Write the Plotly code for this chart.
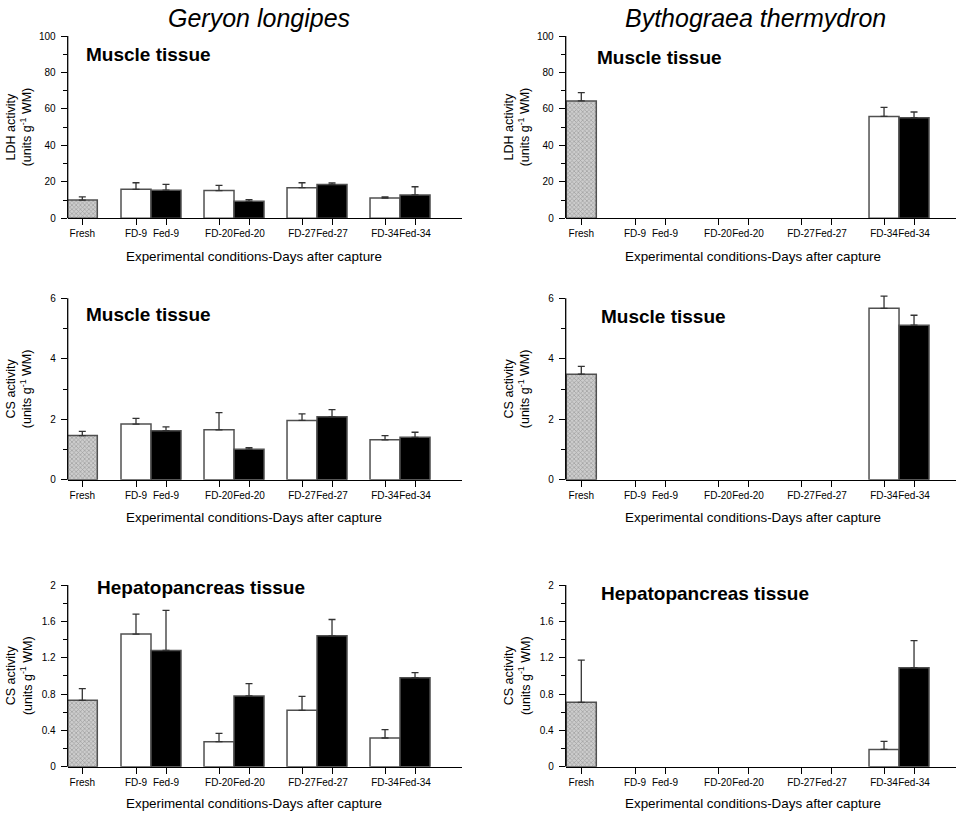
import plotly.graph_objects as go

W, H = 966, 816

# ---------------- data ----------------
categories = ["Fresh", "FD-9", "Fed-9", "FD-20", "Fed-20", "FD-27", "Fed-27", "FD-34", "Fed-34"]
days = [9, 20, 27, 34]

# Geryon longipes - LDH, muscle
gl_ldh_fresh = [10.0]
gl_ldh_fresh_err = [1.8]
gl_ldh_fd = [15.9, 15.2, 16.8, 11.1]
gl_ldh_fd_err = [3.6, 2.9, 2.7, 0.6]
gl_ldh_fed = [15.4, 9.3, 18.6, 12.8]
gl_ldh_fed_err = [3.2, 0.9, 0.8, 4.5]

# Geryon longipes - CS, muscle
gl_csm_fresh = [1.46]
gl_csm_fresh_err = [0.14]
gl_csm_fd = [1.84, 1.65, 1.96, 1.32]
gl_csm_fd_err = [0.19, 0.57, 0.22, 0.14]
gl_csm_fed = [1.62, 1.01, 2.08, 1.40]
gl_csm_fed_err = [0.13, 0.05, 0.24, 0.17]

# Geryon longipes - CS, hepatopancreas
gl_csh_fresh = [0.73]
gl_csh_fresh_err = [0.13]
gl_csh_fd = [1.46, 0.275, 0.62, 0.316]
gl_csh_fd_err = [0.22, 0.092, 0.154, 0.091]
gl_csh_fed = [1.28, 0.778, 1.44, 0.98]
gl_csh_fed_err = [0.44, 0.136, 0.18, 0.055]

# Bythograea thermydron - LDH, muscle
bt_ldh_fresh = [64.4]
bt_ldh_fresh_err = [4.5]
bt_ldh_fd = [None, None, None, 55.9]
bt_ldh_fd_err = [0, 0, 0, 5.0]
bt_ldh_fed = [None, None, None, 55.2]
bt_ldh_fed_err = [0, 0, 0, 3.1]

# Bythograea thermydron - CS, muscle
bt_csm_fresh = [3.49]
bt_csm_fresh_err = [0.26]
bt_csm_fd = [None, None, None, 5.67]
bt_csm_fd_err = [0, 0, 0, 0.40]
bt_csm_fed = [None, None, None, 5.11]
bt_csm_fed_err = [0, 0, 0, 0.33]

# Bythograea thermydron - CS, hepatopancreas
bt_csh_fresh = [0.708]
bt_csh_fresh_err = [0.466]
bt_csh_fd = [None, None, None, 0.19]
bt_csh_fd_err = [0, 0, 0, 0.089]
bt_csh_fed = [None, None, None, 1.09]
bt_csh_fed_err = [0, 0, 0, 0.297]

species = ["Geryon longipes", "Bythograea thermydron"]
panel_labels = ["Muscle tissue", "Muscle tissue", "Hepatopancreas tissue"]
y_titles = ["LDH activity<br>(units g<sup>-1</sup> WM)",
            "CS activity<br>(units g<sup>-1</sup> WM)",
            "CS activity<br>(units g<sup>-1</sup> WM)"]
x_title = "Experimental conditions-Days after capture"
y_max = [100, 6, 2]
y_dticks = [20, 2, 0.4]

# ---------------- layout geometry ----------------
FONT = "Liberation Sans, Arial, sans-serif"
PX_PER_UNIT = 30.0
FIRST_PAIR = 1.79
PAIR_STEP = 2.767
BAR_W = 1.0
HEADROOM = 0.05  # extra space above the top tick so error bars are not clipped

pos_fresh = [0.0]
pos_fd = [FIRST_PAIR + PAIR_STEP * i for i in range(len(days))]
pos_fed = [p + 1.0 for p in pos_fd]
tick_pos = pos_fresh + [v for pair in zip(pos_fd, pos_fed) for v in pair]

col_px = [(67.7, 461.7, 82.3), (565.7, 956.0, 581.3)]  # axis left, axis right, Fresh centre
row_px = [(36.0, 218.3), (298.3, 479.7), (585.0, 766.7)]  # top tick, zero (pixels)


def px_x(p):
    return p / W


def px_y(p):
    return 1 - p / H


panels = [
    [(gl_ldh_fresh, gl_ldh_fresh_err, gl_ldh_fd, gl_ldh_fd_err, gl_ldh_fed, gl_ldh_fed_err),
     (bt_ldh_fresh, bt_ldh_fresh_err, bt_ldh_fd, bt_ldh_fd_err, bt_ldh_fed, bt_ldh_fed_err)],
    [(gl_csm_fresh, gl_csm_fresh_err, gl_csm_fd, gl_csm_fd_err, gl_csm_fed, gl_csm_fed_err),
     (bt_csm_fresh, bt_csm_fresh_err, bt_csm_fd, bt_csm_fd_err, bt_csm_fed, bt_csm_fed_err)],
    [(gl_csh_fresh, gl_csh_fresh_err, gl_csh_fd, gl_csh_fd_err, gl_csh_fed, gl_csh_fed_err),
     (bt_csh_fresh, bt_csh_fresh_err, bt_csh_fd, bt_csh_fd_err, bt_csh_fed, bt_csh_fed_err)],
]

fig = go.Figure()
layout = {}
annotations = []
shapes = []

EDGE = "#505050"
ERRC = "#333333"


def err(vals):
    return dict(type="data", array=vals, arrayminus=[0] * len(vals), symmetric=False,
                color=ERRC, thickness=1.3, width=3.5)


label_pos = {  # (left px, centre y px) of panel label
    (0, 0): (83.5, 54.5), (0, 1): (595.0, 58.0),
    (1, 0): (83.5, 314.5), (1, 1): (599.0, 317.0),
    (2, 0): (94.5, 587.0), (2, 1): (599.0, 593.0),
}

idx = 0
for r in range(3):
    top, bot = row_px[r]
    h = bot - top
    top_ext = top - HEADROOM * h
    for c in range(2):
        idx += 1
        xa = "x" if idx == 1 else f"x{idx}"
        ya = "y" if idx == 1 else f"y{idx}"
        xl, xr, xf = col_px[c]
        x0 = -(xf - xl) / PX_PER_UNIT
        x1 = (xr - xf) / PX_PER_UNIT
        fresh, fresh_e, fd, fd_e, fed, fed_e = panels[r][c]

        fig.add_trace(go.Bar(
            x=pos_fresh, y=fresh, width=BAR_W, xaxis=xa, yaxis=ya,
            marker=dict(color="#bdbdbd", line=dict(color=EDGE, width=1.5),
                        pattern=dict(shape="x", size=3, solidity=0.4,
                                     fgcolor="#6e6e6e", bgcolor="#cdcdcd")),
            error_y=err(fresh_e), showlegend=False))
        fig.add_trace(go.Bar(
            x=pos_fd, y=fd, width=BAR_W, xaxis=xa, yaxis=ya,
            marker=dict(color="white", line=dict(color=EDGE, width=1.5)),
            error_y=err(fd_e), showlegend=False))
        fig.add_trace(go.Bar(
            x=pos_fed, y=fed, width=BAR_W, xaxis=xa, yaxis=ya,
            marker=dict(color="black", line=dict(color=EDGE, width=1.5)),
            error_y=err(fed_e), showlegend=False))

        key_x = "xaxis" if idx == 1 else f"xaxis{idx}"
        key_y = "yaxis" if idx == 1 else f"yaxis{idx}"
        layout[key_x] = dict(
            domain=[px_x(xl), px_x(xr)], range=[x0, x1], anchor=ya,
            tickmode="array", tickvals=tick_pos, ticktext=categories, tickangle=0,
            ticks="outside", ticklen=6, tickwidth=1.2, tickcolor="black",
            showline=True, linecolor="black", linewidth=1.3,
            showgrid=False, zeroline=False, automargin=False,
            tickfont=dict(family=FONT, size=10, color="black"), fixedrange=True)
        dt = y_dticks[r]
        ym = y_max[r]
        layout[key_y] = dict(
            domain=[px_y(bot), px_y(top_ext)], range=[0, ym * (1 + HEADROOM)], anchor=xa,
            tickmode="linear", tick0=0, dtick=dt,
            ticks="outside", ticklen=6, tickwidth=1.2, tickcolor="black",
            minor=dict(ticks="outside", ticklen=3.5, tickwidth=1.2, tickcolor="black",
                       tickmode="linear", tick0=0, dtick=dt / 2, showgrid=False),
            showline=False, showgrid=False, zeroline=False,
            ticklabelstandoff=3, automargin=False,
            tickfont=dict(family=FONT, size=10, color="black"), fixedrange=True)

        # y-axis line from 0 to the top tick only
        shapes.append(dict(type="line", xref=f"{xa} domain", yref=ya,
                           x0=0, x1=0, y0=0, y1=ym,
                           line=dict(color="black", width=1.3)))

        # panel label
        lx, ly = label_pos[(r, c)]
        annotations.append(dict(
            text=panel_labels[r], xref="paper", yref="paper",
            x=px_x(lx), y=px_y(ly), xanchor="left", yanchor="middle",
            showarrow=False, font=dict(family=FONT, size=19, color="black", weight="bold")))
        # y title
        annotations.append(dict(
            text=y_titles[r], xref="paper", yref="paper",
            x=px_x(xl - 48.5), y=px_y((top + bot) / 2), xanchor="center", yanchor="middle",
            textangle=-90, showarrow=False,
            font=dict(family=FONT, size=12.5, color="black")))
        # x title
        xt_y = [256.5, 517.0, 803.0][r]
        annotations.append(dict(
            text=x_title, xref="paper", yref="paper",
            x=px_x(xf + 171.7), y=px_y(xt_y), xanchor="center", yanchor="middle",
            showarrow=False, font=dict(family=FONT, size=13.4, color="black")))

# column titles
for c, name in enumerate(species):
    cx = [259.0, 755.5][c]
    annotations.append(dict(
        text=name, xref="paper", yref="paper", x=px_x(cx), y=px_y(17.5),
        xanchor="center", yanchor="middle", showarrow=False,
        font=dict(family=FONT, size=25, color="black", style="italic")))

fig.update_layout(
    width=W, height=H, margin=dict(l=0, r=0, t=0, b=0, autoexpand=False),
    paper_bgcolor="white", plot_bgcolor="white",
    barmode="overlay", showlegend=False,
    annotations=annotations, shapes=shapes, **layout)

fig.write_html("out.html", config={"displayModeBar": False})
